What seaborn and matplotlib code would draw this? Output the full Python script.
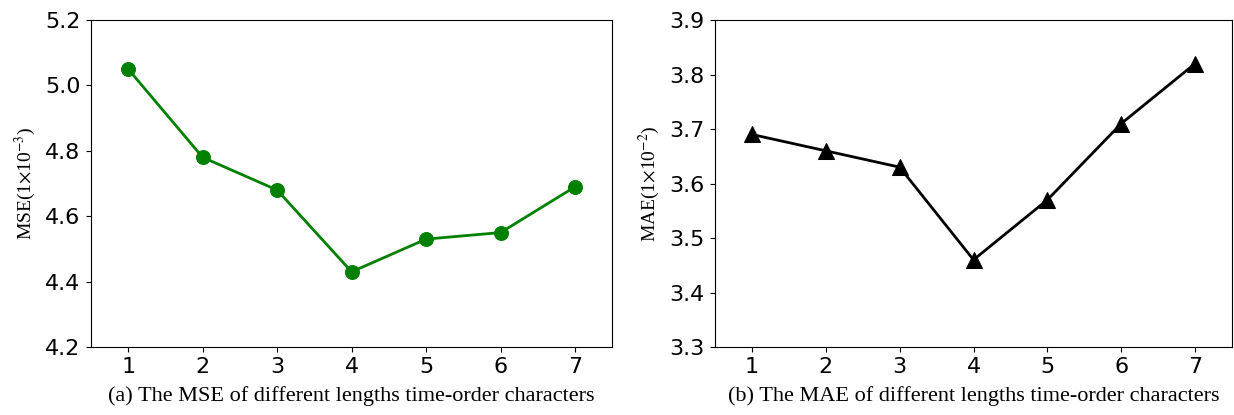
import seaborn as sns
import matplotlib.pyplot as plt
import pandas as pd

# dados
lengths = [1, 2, 3, 4, 5, 6, 7]
mse = [5.05, 4.78, 4.68, 4.43, 4.53, 4.55, 4.69]
mae = [3.69, 3.66, 3.63, 3.46, 3.57, 3.71, 3.82]

df = pd.DataFrame({'length': lengths, 'mse': mse, 'mae': mae})

plt.rcParams['mathtext.fontset'] = 'stix'
serif = 'Liberation Serif'

fig = plt.figure(figsize=(12.34, 4.15), dpi=100)
ax1 = fig.add_axes([0.0737, 0.1638, 0.4225, 0.7880])
ax2 = fig.add_axes([0.5794, 0.1638, 0.4190, 0.7880])

# MSE
sns.lineplot(data=df, x='length', y='mse', ax=ax1, color='green',
             marker='o', markersize=10, markeredgecolor='green', linewidth=2)
ax1.set_xlim(0.5, 7.5)
ax1.set_ylim(4.2, 5.2)
ax1.set_yticks([4.2, 4.4, 4.6, 4.8, 5.0, 5.2])
ax1.set_ylabel(r'MSE(1$\times$10$^{-3}$)', fontfamily=serif, fontsize=14,
               labelpad=5)
ax1.set_xlabel('(a) The MSE of different lengths time-order characters',
               fontfamily=serif, fontsize=16, labelpad=6)

# MAE
sns.lineplot(data=df, x='length', y='mae', ax=ax2, color='black',
             marker='^', markersize=11, markeredgecolor='black', linewidth=2)
ax2.set_xlim(0.5, 7.5)
ax2.set_ylim(3.3, 3.9)
ax2.set_yticks([3.3, 3.4, 3.5, 3.6, 3.7, 3.8, 3.9])
ax2.set_ylabel(r'MAE(1$\times$10$^{-2}$)', fontfamily=serif, fontsize=14,
               labelpad=5)
ax2.set_xlabel('(b) The MAE of different lengths time-order characters',
               fontfamily=serif, fontsize=16, labelpad=6)

for ax in (ax1, ax2):
    ax.set_xticks(lengths)
    ax.tick_params(labelsize=16, pad=4)

fig.savefig('out.png', dpi=100)
